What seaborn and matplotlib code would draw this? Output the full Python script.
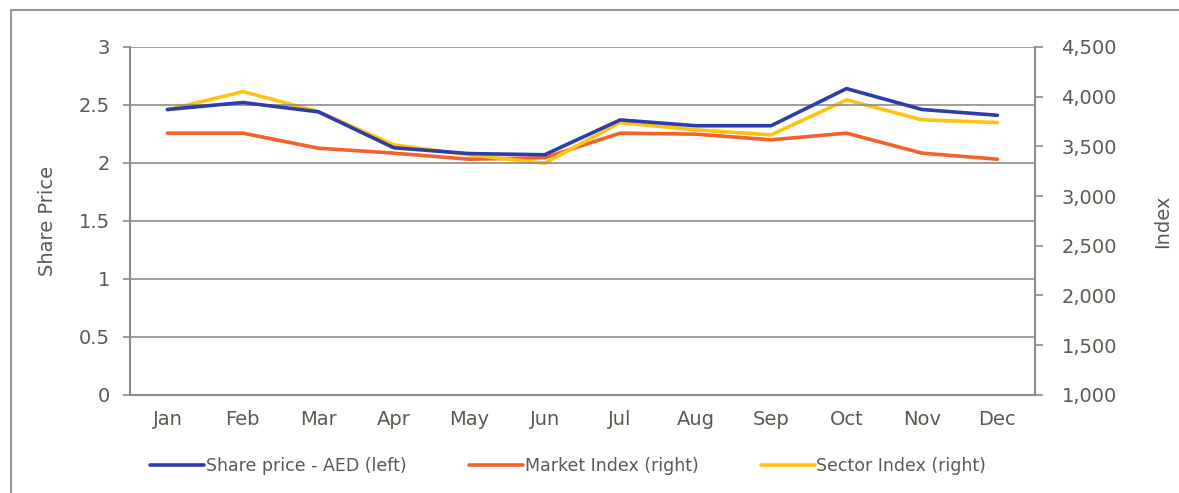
import pandas as pd
import matplotlib.pyplot as plt
import seaborn as sns
from matplotlib.patches import Rectangle
from matplotlib.ticker import FuncFormatter

months = ['Jan', 'Feb', 'Mar', 'Apr', 'May', 'Jun',
          'Jul', 'Aug', 'Sep', 'Oct', 'Nov', 'Dec']
share_price = [2.46, 2.52, 2.44, 2.13, 2.08, 2.07, 2.37, 2.32, 2.32, 2.64, 2.46, 2.41]
market_index = [3632, 3632, 3481, 3431, 3370, 3385, 3632, 3622, 3565, 3632, 3431, 3370]
sector_index = [3866, 4050, 3849, 3514, 3414, 3330, 3739, 3665, 3615, 3967, 3766, 3739]

blue = '#2E3DA8'
orange = '#F2622A'
yellow = '#FFC20E'
grey_txt = '#5A5A50'
grey_line = '#8C8C8C'

sns.set_theme(style='white')
plt.rcParams['font.family'] = ['DejaVu Sans']

df = pd.DataFrame({'month': months, 'share': share_price,
                   'market': market_index, 'sector': sector_index})
df['x'] = range(len(months))

fig, ax = plt.subplots(figsize=(11.79, 4.93), dpi=100)
fig.subplots_adjust(left=0.110, right=0.878, top=0.905, bottom=0.199)
ax2 = ax.twinx()

sns.lineplot(data=df, x='x', y='share', ax=ax, color=blue, lw=2.6,
             label='Share price - AED (left)', legend=False)
sns.lineplot(data=df, x='x', y='market', ax=ax2, color=orange, lw=2.6,
             label='Market Index (right)', legend=False)
sns.lineplot(data=df, x='x', y='sector', ax=ax2, color=yellow, lw=2.6,
             label='Sector Index (right)', legend=False)

# share price drawn on top
ax.set_zorder(ax2.get_zorder() + 1)
ax.patch.set_visible(False)

ax.set_xlim(-0.5, len(months) - 0.5)
ax.set_ylim(0, 3)
ax.set_yticks([0, 0.5, 1, 1.5, 2, 2.5, 3])
ax.set_yticklabels(['0', '0.5', '1', '1.5', '2', '2.5', '3'])
ax2.set_ylim(1000, 4500)
ax2.set_yticks(range(1000, 4501, 500))
ax2.yaxis.set_major_formatter(FuncFormatter(lambda v, p: f'{int(v):,}'))

ax.set_xticks(df['x'])
ax.set_xticklabels(months)

ax.yaxis.grid(True, color=grey_line, lw=1.2)
ax.xaxis.grid(False)
ax2.grid(False)

for a in (ax, ax2):
    for s in a.spines.values():
        s.set_visible(False)
ax.spines['left'].set_visible(True)
ax.spines['bottom'].set_visible(True)
ax2.spines['right'].set_visible(True)
for s in (ax.spines['left'], ax.spines['bottom'], ax2.spines['right']):
    s.set_color(grey_line)
    s.set_linewidth(1.5)

ax.tick_params(axis='y', length=5, width=1.2, color=grey_line, labelsize=14,
               labelcolor=grey_txt, pad=9, left=True)
ax.tick_params(axis='x', length=0, labelsize=14, labelcolor=grey_txt, pad=11)
ax2.tick_params(axis='y', length=6, width=1.2, color=grey_line, labelsize=14,
                labelcolor=grey_txt, pad=13, right=True)

ax.set_xlabel('')
ax.set_ylabel('Share Price', color=grey_txt, fontsize=14, labelpad=16)
ax2.set_ylabel('Index', color=grey_txt, fontsize=14, labelpad=26)

h1, l1 = ax.get_legend_handles_labels()
h2, l2 = ax2.get_legend_handles_labels()
fig.legend(h1 + h2, l1 + l2, loc='center', bbox_to_anchor=(0.482, 0.055),
           ncol=3, frameon=False, fontsize=12.5, labelcolor=grey_txt,
           handlelength=3.1, handletextpad=0.1, columnspacing=3.6)

fig.patches.append(Rectangle((0.009, -0.05), 1.2, 1.03, transform=fig.transFigure,
                             fill=False, edgecolor='#999999', lw=1.5))

plt.savefig('out.png', dpi=100)
plt.close()
